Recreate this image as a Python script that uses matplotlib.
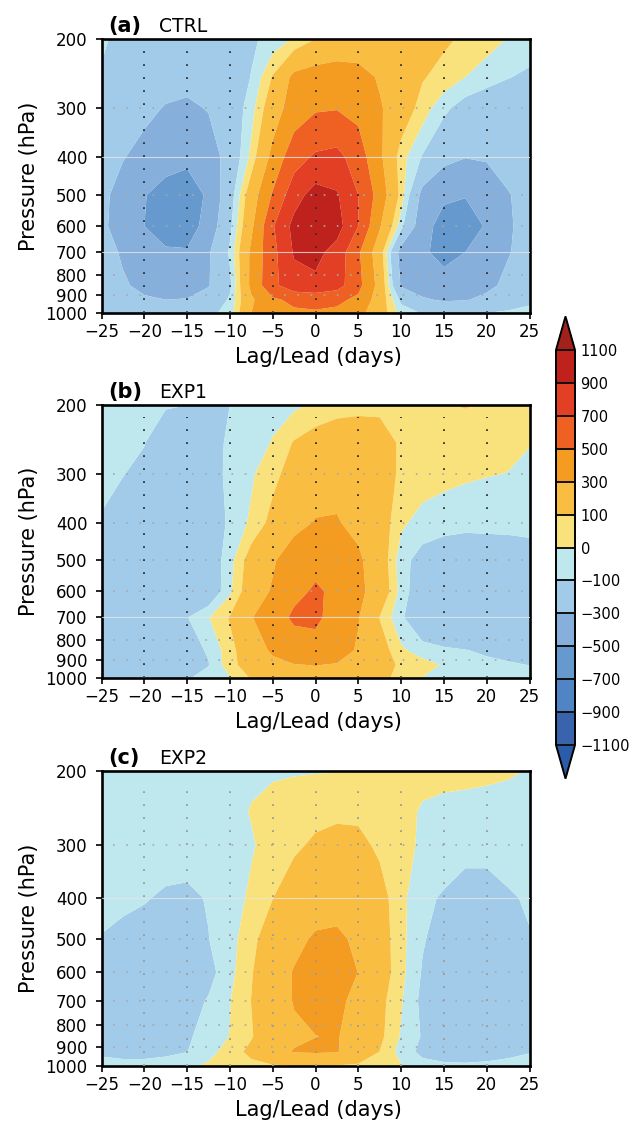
import numpy as np
import matplotlib
matplotlib.use("Agg")
import matplotlib.pyplot as plt

plt.rcParams['font.family'] = ['DejaVu Sans']

# ---------------- data ----------------
lags = [-25, -22.5, -20, -17.5, -15, -12.5, -10, -7.5, -5, -2.5, 0,
        2.5, 5, 7.5, 10, 12.5, 15, 17.5, 20, 22.5, 25]
plevs = [200, 250, 300, 400, 500, 600, 700, 850, 925, 1000]

ctrl = [
    [-85, -130, -170, -190, -200, -190, -160, -120, -60, 10, 100, 150, 190, 200, 190, 160, 120, 80, 40, -5, -50],
    [-110, -160, -210, -240, -250, -230, -190, -95, 110, 350, 400, 420, 370, 280, 200, 110, 60, 0, -50, -95, -120],
    [-140, -200, -260, -310, -330, -290, -200, -40, 200, 400, 480, 490, 450, 320, 190, 50, -70, -160, -200, -190, -170],
    [-200, -290, -360, -420, -460, -400, -220, 30, 360, 620, 730, 760, 600, 340, 40, -110, -250, -295, -280, -240, -200],
    [-250, -380, -490, -580, -600, -470, -170, 200, 520, 820, 980, 920, 700, 420, 60, -360, -470, -490, -440, -310, -240],
    [-260, -390, -500, -600, -600, -420, -130, 260, 680, 960, 1050, 980, 700, 320, -60, -430, -570, -600, -480, -320, -240],
    [-230, -320, -420, -470, -480, -320, -80, 340, 640, 920, 960, 820, 530, 180, -380, -470, -560, -500, -420, -310, -240],
    [-240, -280, -340, -380, -390, -310, -130, 350, 650, 820, 850, 780, 560, 230, -320, -380, -420, -400, -340, -260, -220],
    [-170, -230, -280, -300, -290, -230, -80, 270, 470, 540, 560, 540, 460, 200, -130, -280, -320, -310, -260, -180, -130],
    [-95, -110, -120, -120, -115, -130, -60, 300, 420, 470, 480, 460, 360, 180, -40, -110, -130, -120, -100, -80, -60],
]

exp1 = [
    [-40, -60, -80, -95, -100, -125, -100, -70, -45, -20, 15, 50, 60, 70, 70, 80, 95, 105, 90, 80, 70],
    [-80, -85, -98, -140, -160, -150, -80, -70, 10, 110, 170, 200, 210, 170, 80, 70, 60, 50, 40, 20, 5],
    [-85, -98, -115, -150, -175, -160, -70, -15, 70, 150, 220, 260, 260, 200, 70, 50, 30, 15, 5, -2, -30],
    [-105, -130, -160, -190, -200, -180, -80, 20, 140, 250, 310, 310, 260, 180, 20, -40, -60, -70, -70, -70, -70],
    [-140, -170, -200, -220, -230, -190, -40, 170, 280, 400, 460, 460, 330, 200, -60, -150, -180, -190, -180, -170, -150],
    [-170, -200, -230, -250, -250, -210, -20, 200, 320, 460, 520, 470, 340, 220, -40, -200, -230, -240, -240, -230, -210],
    [-190, -220, -240, -230, -105, -5, 110, 290, 420, 530, 540, 420, 310, 95, -80, -220, -250, -270, -270, -250, -230],
    [-180, -200, -210, -190, -140, -90, 60, 200, 330, 400, 420, 380, 280, 170, 20, -50, -80, -95, -120, -130, -130],
    [-170, -190, -190, -180, -130, -105, 60, 170, 250, 295, 305, 290, 240, 160, 80, 40, -10, -50, -70, -90, -102],
    [-150, -160, -160, -150, -110, -60, -5, 110, 190, 240, 250, 240, 200, 140, 60, -3, -30, -50, -60, -70, -70],
]

exp2 = [
    [-30, -30, -30, -30, -30, -25, -20, -15, -10, -7, -5, -3, -1, 5, 15, 25, 30, 30, 20, 10, -5],
    [-50, -50, -50, -50, -50, -40, -30, 5, 30, 50, 70, 80, 80, 60, 30, -10, -30, -40, -40, -40, -40],
    [-60, -60, -65, -70, -70, -60, -40, -10, 40, 80, 120, 140, 130, 80, 40, -20, -55, -80, -80, -65, -60],
    [-70, -85, -95, -110, -115, -95, -50, 20, 98, 180, 230, 240, 220, 150, 30, -80, -110, -130, -130, -110, -90],
    [-105, -120, -130, -140, -140, -102, -40, 70, 170, 260, 320, 330, 270, 170, 30, -90, -150, -170, -170, -140, -105],
    [-130, -150, -160, -170, -170, -140, -30, 90, 220, 310, 370, 380, 298, 180, 30, -110, -170, -190, -190, -180, -170],
    [-130, -150, -160, -160, -150, -90, -5, 102, 210, 310, 360, 340, 250, 140, 10, -130, -180, -200, -200, -190, -180],
    [-130, -140, -140, -130, -115, -60, 3, 90, 200, 270, 298, 310, 230, 130, -10, -110, -160, -180, -180, -170, -160],
    [-120, -130, -130, -120, -102, -40, 50, 130, 240, 310, 320, 310, 200, 98, -40, -130, -150, -150, -140, -125, -105],
    [-60, -70, -70, -60, -20, 20, 50, 70, 85, 95, 95, 90, 80, 60, 5, -60, -80, -85, -80, -70, -60],
]

panel_letters = ["(a)", "(b)", "(c)"]
panel_names = ["CTRL", "EXP1", "EXP2"]
levels = [-1100, -900, -700, -500, -300, -100, 0, 100, 300, 500, 700, 900, 1100]
colors = ['#2b5ca9', '#3a63ad', '#5085c5', '#6699cd', '#86afdc', '#a1cbe8', '#bee8ee',
          '#f9e27c', '#f9bd41', '#f49c22', '#ee6122', '#e23f25', '#bf211c', '#a3211b']
xticks = [-25, -20, -15, -10, -5, 0, 5, 10, 15, 20, 25]
yticks = [200, 300, 400, 500, 600, 700, 800, 900, 1000]


def fmt(v):
    return ("\u2212" + str(abs(v))) if v < 0 else str(v)


# ---------------- figure ----------------
W, H = 632, 1123
fig = plt.figure(figsize=(W / 100, H / 100), dpi=100)

left, right = 101.5, 529.5
boxes = [(39, 313), (405, 678), (771, 1066)]
solid_lines = [[400, 700], [700], [400]]
vcolors = ['#303030', '#303030', '#9a9a9a']

X, Y = np.meshgrid(np.array(lags), np.array(plevs))
cf = None
for i, (fld, (top, bot)) in enumerate(zip([ctrl, exp1, exp2], boxes)):
    ax = fig.add_axes([left / W, 1 - bot / H, (right - left) / W, (bot - top) / H])
    cf = ax.contourf(X, Y, np.array(fld, dtype=float), levels=levels, colors=colors,
                     extend='both', antialiased=True)
    ax.set_yscale('log')
    ax.set_ylim(1000, 200)
    ax.set_xlim(-25, 25)
    ax.yaxis.set_minor_locator(matplotlib.ticker.NullLocator())
    ax.set_yticks(yticks)
    ax.set_yticklabels([str(v) for v in yticks])
    ax.set_xticks(xticks)
    ax.set_xticklabels([fmt(v) for v in xticks])
    ax.tick_params(axis='both', direction='out', length=4.5, width=1.2, labelsize=12,
                   right=False, top=False)
    ax.tick_params(axis='y', pad=5.5)
    ax.tick_params(axis='x', pad=3)
    for s in ax.spines.values():
        s.set_linewidth(1.9)

    # grid lines
    for p in [300, 400, 500, 600, 700, 800, 900]:
        if p in solid_lines[i]:
            ax.plot([-25, 25], [p, p], color='#e6e6e6', lw=0.8, alpha=0.8, zorder=3)
        else:
            ax.plot([-23.7, 25], [p, p], color='#a8a8a8', lw=1.2,
                    linestyle=(0, (1, 6.9)), zorder=3)
    for lg in xticks[1:-1]:
        ax.plot([lg, lg], [1000, 215], color=vcolors[i], lw=1.3,
                linestyle=(0, (1, 6.2)), zorder=3)

    # labels
    fig.text(29 / W, 1 - ((top + bot) / 2) / H, "Pressure (hPa)", rotation=90,
             ha='center', va='center', fontsize=15)
    fig.text(318 / W, 1 - (bot + 50) / H, "Lag/Lead (days)", ha='center',
             va='baseline', fontsize=15)
    fig.text(108 / W, 1 - (top - 7) / H, panel_letters[i], ha='left', va='baseline',
             fontsize=15, fontweight='bold')
    fig.text(159 / W, 1 - (top - 7) / H, panel_names[i], ha='left', va='baseline',
             fontsize=13.5)

# ---------------- colorbar ----------------
ext = 0.085
interior_top, interior_bot = 350, 745
L = interior_bot - interior_top
cb_top = interior_top - ext * L
cb_bot = interior_bot + ext * L
cax = fig.add_axes([556 / W, 1 - cb_bot / H, 19 / W, (cb_bot - cb_top) / H])
cb = fig.colorbar(cf, cax=cax, orientation='vertical', extend='both',
                  extendfrac=ext, drawedges=True, ticks=levels)
cb.set_ticklabels([fmt(v) for v in levels])
cb.ax.tick_params(length=0, labelsize=10.5, pad=4)
cb.outline.set_linewidth(1.4)
cb.dividers.set_linewidth(1.4)
cb.dividers.set_color('#111111')

fig.savefig("out.png", dpi=100)
